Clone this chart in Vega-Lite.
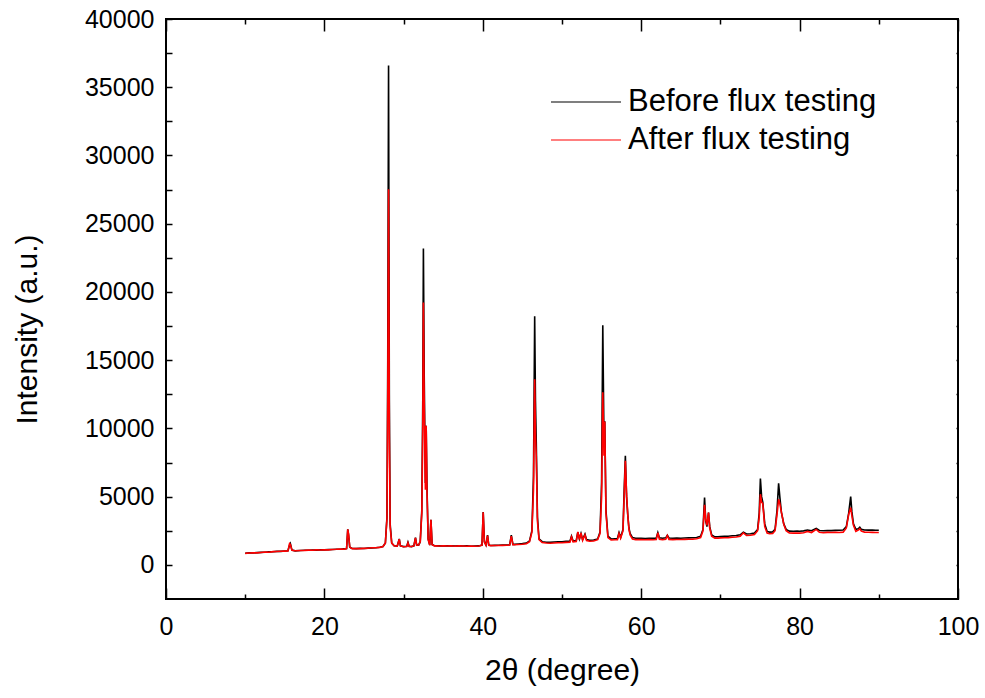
{
  "$schema": "https://vega.github.io/schema/vega-lite/v6.json",
  "width": 792,
  "height": 580,
  "autosize": {"type": "none"},
  "padding": {"left": 166, "top": 19, "right": 27, "bottom": 99},
  "background": "white",
  "config": {
    "view": {"stroke": "#000000", "strokeWidth": 2},
    "font": "Liberation Sans",
    "axis": {
      "grid": false,
      "domain": false,
      "labelFont": "Liberation Sans",
      "titleFont": "Liberation Sans",
      "labelFontSize": 25,
      "titleFontSize": 30,
      "titleFontWeight": "normal",
      "labelColor": "#000000",
      "titleColor": "#000000",
      "tickColor": "#000000",
      "tickWidth": 1.5,
      "labelFlush": false,
      "labelOverlap": false
    }
  },
  "data": {
    "values": [
      {"t": 10.0, "b": 850, "a": 840}, {"t": 10.5, "b": 880, "a": 870}, {"t": 11.0, "b": 870, "a": 890},
      {"t": 11.5, "b": 900, "a": 880}, {"t": 12.0, "b": 920, "a": 910}, {"t": 12.5, "b": 930, "a": 940},
      {"t": 13.0, "b": 950, "a": 930}, {"t": 13.5, "b": 960, "a": 970}, {"t": 14.0, "b": 990, "a": 980},
      {"t": 14.5, "b": 990, "a": 1000}, {"t": 15.0, "b": 1020, "a": 1010}, {"t": 15.4, "b": 1030, "a": 1020},
      {"t": 15.6, "b": 1450, "a": 1560}, {"t": 15.7, "b": 1560, "a": 1500}, {"t": 15.9, "b": 1080, "a": 1070},
      {"t": 16.3, "b": 1030, "a": 1040}, {"t": 17.0, "b": 1050, "a": 1050}, {"t": 17.5, "b": 1070, "a": 1060},
      {"t": 18.0, "b": 1070, "a": 1080}, {"t": 18.5, "b": 1090, "a": 1070}, {"t": 19.0, "b": 1080, "a": 1100},
      {"t": 19.5, "b": 1100, "a": 1090}, {"t": 20.0, "b": 1100, "a": 1110}, {"t": 20.5, "b": 1120, "a": 1100},
      {"t": 21.0, "b": 1130, "a": 1130}, {"t": 21.5, "b": 1150, "a": 1140}, {"t": 22.0, "b": 1150, "a": 1160},
      {"t": 22.5, "b": 1170, "a": 1150}, {"t": 22.8, "b": 1200, "a": 1190}, {"t": 22.95, "b": 2600, "a": 2610},
      {"t": 23.05, "b": 2200, "a": 2250}, {"t": 23.2, "b": 1300, "a": 1300}, {"t": 23.5, "b": 1200, "a": 1190},
      {"t": 24.0, "b": 1190, "a": 1200}, {"t": 24.5, "b": 1210, "a": 1190}, {"t": 25.0, "b": 1200, "a": 1210},
      {"t": 25.5, "b": 1230, "a": 1220}, {"t": 26.0, "b": 1240, "a": 1250}, {"t": 26.5, "b": 1260, "a": 1250},
      {"t": 27.0, "b": 1290, "a": 1280}, {"t": 27.4, "b": 1350, "a": 1350}, {"t": 27.7, "b": 1600, "a": 1600},
      {"t": 27.9, "b": 3500, "a": 3400}, {"t": 28.0, "b": 15000, "a": 12000}, {"t": 28.1, "b": 36600, "a": 27520},
      {"t": 28.2, "b": 12000, "a": 9500}, {"t": 28.3, "b": 3000, "a": 2800}, {"t": 28.5, "b": 1600, "a": 1600},
      {"t": 28.8, "b": 1400, "a": 1400}, {"t": 29.2, "b": 1380, "a": 1370}, {"t": 29.45, "b": 1900, "a": 1880},
      {"t": 29.6, "b": 1400, "a": 1390}, {"t": 30.0, "b": 1340, "a": 1330}, {"t": 30.4, "b": 1360, "a": 1350},
      {"t": 30.55, "b": 1650, "a": 1620}, {"t": 30.7, "b": 1360, "a": 1350}, {"t": 31.0, "b": 1340, "a": 1350},
      {"t": 31.3, "b": 1400, "a": 1390}, {"t": 31.5, "b": 2000, "a": 1980}, {"t": 31.65, "b": 1450, "a": 1440},
      {"t": 31.9, "b": 1450, "a": 1450}, {"t": 32.1, "b": 1700, "a": 1700}, {"t": 32.3, "b": 4000, "a": 3800},
      {"t": 32.42, "b": 12000, "a": 10000}, {"t": 32.5, "b": 23190, "a": 19230}, {"t": 32.6, "b": 14000, "a": 12000},
      {"t": 32.75, "b": 6000, "a": 5500}, {"t": 32.85, "b": 10200, "a": 10200}, {"t": 32.95, "b": 5800, "a": 5500},
      {"t": 33.1, "b": 1900, "a": 1850}, {"t": 33.3, "b": 1450, "a": 1450}, {"t": 33.45, "b": 3300, "a": 3300},
      {"t": 33.6, "b": 1500, "a": 1480}, {"t": 33.9, "b": 1400, "a": 1390}, {"t": 34.5, "b": 1390, "a": 1380},
      {"t": 35.0, "b": 1380, "a": 1390}, {"t": 35.5, "b": 1400, "a": 1380}, {"t": 36.0, "b": 1390, "a": 1400},
      {"t": 36.5, "b": 1380, "a": 1370}, {"t": 37.0, "b": 1400, "a": 1390}, {"t": 37.5, "b": 1380, "a": 1380},
      {"t": 38.0, "b": 1390, "a": 1370}, {"t": 38.5, "b": 1370, "a": 1380}, {"t": 39.0, "b": 1380, "a": 1370},
      {"t": 39.5, "b": 1390, "a": 1380}, {"t": 39.9, "b": 1450, "a": 1440}, {"t": 40.05, "b": 3880, "a": 3850},
      {"t": 40.2, "b": 1700, "a": 1650}, {"t": 40.4, "b": 1450, "a": 1450}, {"t": 40.6, "b": 2180, "a": 2150},
      {"t": 40.75, "b": 1450, "a": 1440}, {"t": 41.0, "b": 1420, "a": 1410}, {"t": 41.5, "b": 1430, "a": 1420},
      {"t": 42.0, "b": 1440, "a": 1420}, {"t": 42.5, "b": 1450, "a": 1430}, {"t": 43.0, "b": 1460, "a": 1440},
      {"t": 43.4, "b": 1470, "a": 1460}, {"t": 43.6, "b": 2180, "a": 2100}, {"t": 43.8, "b": 1500, "a": 1480},
      {"t": 44.0, "b": 1500, "a": 1470}, {"t": 44.5, "b": 1530, "a": 1490}, {"t": 45.0, "b": 1560, "a": 1510},
      {"t": 45.5, "b": 1600, "a": 1550}, {"t": 45.9, "b": 1750, "a": 1700}, {"t": 46.2, "b": 2500, "a": 2400},
      {"t": 46.4, "b": 6500, "a": 5500}, {"t": 46.55, "b": 18220, "a": 13600}, {"t": 46.65, "b": 12000, "a": 9500},
      {"t": 46.75, "b": 9000, "a": 8000}, {"t": 46.9, "b": 3500, "a": 3200}, {"t": 47.1, "b": 1900, "a": 1850},
      {"t": 47.5, "b": 1700, "a": 1640}, {"t": 48.0, "b": 1660, "a": 1600}, {"t": 48.5, "b": 1650, "a": 1580},
      {"t": 49.0, "b": 1680, "a": 1600}, {"t": 49.5, "b": 1690, "a": 1620}, {"t": 50.0, "b": 1700, "a": 1620},
      {"t": 50.5, "b": 1720, "a": 1650}, {"t": 51.0, "b": 1730, "a": 1660}, {"t": 51.2, "b": 2100, "a": 2050},
      {"t": 51.4, "b": 1750, "a": 1690}, {"t": 51.8, "b": 1780, "a": 1720}, {"t": 52.0, "b": 2400, "a": 2420},
      {"t": 52.2, "b": 1900, "a": 1850}, {"t": 52.4, "b": 2300, "a": 2350}, {"t": 52.6, "b": 1850, "a": 1800},
      {"t": 52.9, "b": 2250, "a": 2200}, {"t": 53.1, "b": 1850, "a": 1780}, {"t": 53.5, "b": 1800, "a": 1730},
      {"t": 54.0, "b": 1820, "a": 1750}, {"t": 54.5, "b": 1900, "a": 1850}, {"t": 54.8, "b": 2400, "a": 2300},
      {"t": 55.0, "b": 6000, "a": 5000}, {"t": 55.15, "b": 17560, "a": 12650}, {"t": 55.3, "b": 9000, "a": 8000},
      {"t": 55.4, "b": 10530, "a": 10500}, {"t": 55.55, "b": 4000, "a": 3800}, {"t": 55.8, "b": 2100, "a": 2000},
      {"t": 56.2, "b": 1900, "a": 1820}, {"t": 56.7, "b": 1920, "a": 1840}, {"t": 57.0, "b": 1930, "a": 1850},
      {"t": 57.2, "b": 2370, "a": 2300}, {"t": 57.4, "b": 2000, "a": 1950}, {"t": 57.7, "b": 2600, "a": 2500},
      {"t": 57.85, "b": 5500, "a": 5000}, {"t": 58.0, "b": 7990, "a": 7620}, {"t": 58.15, "b": 5000, "a": 5200},
      {"t": 58.3, "b": 3700, "a": 3710}, {"t": 58.45, "b": 2700, "a": 2610}, {"t": 58.6, "b": 2300, "a": 2200},
      {"t": 58.9, "b": 2000, "a": 1900}, {"t": 59.3, "b": 1950, "a": 1850}, {"t": 60.0, "b": 1950, "a": 1850},
      {"t": 60.5, "b": 1930, "a": 1840}, {"t": 61.0, "b": 1950, "a": 1850}, {"t": 61.5, "b": 1940, "a": 1840},
      {"t": 61.9, "b": 1960, "a": 1860}, {"t": 62.1, "b": 2370, "a": 2350}, {"t": 62.3, "b": 1980, "a": 1880},
      {"t": 62.7, "b": 1950, "a": 1850}, {"t": 63.1, "b": 1980, "a": 1880}, {"t": 63.3, "b": 2170, "a": 2150},
      {"t": 63.5, "b": 1970, "a": 1870}, {"t": 64.0, "b": 1950, "a": 1850}, {"t": 64.5, "b": 1960, "a": 1860},
      {"t": 65.0, "b": 1950, "a": 1860}, {"t": 65.5, "b": 1970, "a": 1870}, {"t": 66.0, "b": 1980, "a": 1880},
      {"t": 66.5, "b": 1990, "a": 1890}, {"t": 67.0, "b": 2010, "a": 1910}, {"t": 67.5, "b": 2100, "a": 2000},
      {"t": 67.8, "b": 2600, "a": 2500}, {"t": 68.0, "b": 4940, "a": 4400}, {"t": 68.15, "b": 3200, "a": 3300},
      {"t": 68.3, "b": 2800, "a": 2900}, {"t": 68.5, "b": 3840, "a": 3840}, {"t": 68.65, "b": 2800, "a": 2700},
      {"t": 68.9, "b": 2200, "a": 2100}, {"t": 69.3, "b": 2050, "a": 1960}, {"t": 69.7, "b": 2060, "a": 1960},
      {"t": 70.0, "b": 2080, "a": 1980}, {"t": 70.5, "b": 2090, "a": 1990}, {"t": 71.0, "b": 2100, "a": 2000},
      {"t": 71.5, "b": 2130, "a": 2020}, {"t": 72.0, "b": 2150, "a": 2040}, {"t": 72.5, "b": 2200, "a": 2090},
      {"t": 72.9, "b": 2400, "a": 2350}, {"t": 73.3, "b": 2260, "a": 2150}, {"t": 73.8, "b": 2280, "a": 2170},
      {"t": 74.3, "b": 2330, "a": 2220}, {"t": 74.7, "b": 2600, "a": 2500}, {"t": 74.9, "b": 3800, "a": 3500},
      {"t": 75.05, "b": 6330, "a": 5180}, {"t": 75.2, "b": 5000, "a": 4600}, {"t": 75.35, "b": 4600, "a": 4500},
      {"t": 75.6, "b": 3000, "a": 2800}, {"t": 75.9, "b": 2450, "a": 2330}, {"t": 76.2, "b": 2400, "a": 2280},
      {"t": 76.6, "b": 2420, "a": 2300}, {"t": 76.9, "b": 2600, "a": 2500}, {"t": 77.15, "b": 4000, "a": 3700},
      {"t": 77.35, "b": 5980, "a": 4810}, {"t": 77.5, "b": 5000, "a": 4500}, {"t": 77.7, "b": 3860, "a": 3860},
      {"t": 78.0, "b": 3000, "a": 2980}, {"t": 78.3, "b": 2600, "a": 2500}, {"t": 78.7, "b": 2470, "a": 2340},
      {"t": 79.2, "b": 2460, "a": 2330}, {"t": 79.7, "b": 2480, "a": 2340}, {"t": 80.0, "b": 2470, "a": 2330},
      {"t": 80.5, "b": 2490, "a": 2350}, {"t": 81.0, "b": 2560, "a": 2450}, {"t": 81.5, "b": 2500, "a": 2370},
      {"t": 82.1, "b": 2680, "a": 2600}, {"t": 82.5, "b": 2520, "a": 2390}, {"t": 83.0, "b": 2500, "a": 2360},
      {"t": 83.5, "b": 2520, "a": 2380}, {"t": 84.0, "b": 2510, "a": 2370}, {"t": 84.5, "b": 2530, "a": 2380},
      {"t": 85.0, "b": 2540, "a": 2370}, {"t": 85.5, "b": 2560, "a": 2400}, {"t": 85.9, "b": 2800, "a": 2700},
      {"t": 86.2, "b": 3800, "a": 3700}, {"t": 86.45, "b": 5010, "a": 4200}, {"t": 86.6, "b": 3900, "a": 3600},
      {"t": 86.8, "b": 3000, "a": 2900}, {"t": 87.1, "b": 2600, "a": 2450}, {"t": 87.4, "b": 2650, "a": 2550},
      {"t": 87.6, "b": 2760, "a": 2650}, {"t": 87.8, "b": 2600, "a": 2470}, {"t": 88.2, "b": 2560, "a": 2400},
      {"t": 88.7, "b": 2550, "a": 2390}, {"t": 89.2, "b": 2560, "a": 2380}, {"t": 89.6, "b": 2540, "a": 2370},
      {"t": 90.0, "b": 2540, "a": 2370}
    ]
  },
  "transform": [{"fold": ["b", "a"], "as": ["k", "v"]}],
  "layer": [
    {
      "transform": [{"filter": "datum.k === 'b'"}],
      "mark": {"type": "line", "strokeWidth": 1.6},
      "encoding": {
        "x": {
          "field": "t", "type": "quantitative",
          "scale": {"domain": [0, 100], "nice": false, "zero": false},
          "axis": {"orient": "bottom", "values": [0, 20, 40, 60, 80, 100], "ticks": false, "labelPadding": 15,
                   "title": "2θ (degree)", "titleBaseline": "alphabetic", "titleY": 80, "titleX": 396, "titleAlign": "center"}
        },
        "y": {
          "field": "v", "type": "quantitative",
          "scale": {"domain": [-2500, 40000], "nice": false, "zero": false},
          "axis": {"orient": "left", "values": [0, 5000, 10000, 15000, 20000, 25000, 30000, 35000, 40000], "format": "d",
                   "ticks": false, "labelPadding": 12,
                   "title": "Intensity (a.u.)", "titleBaseline": "alphabetic", "titleAngle": -90, "titleAlign": "center",
                   "titleX": -130, "titleY": 310}
        },
        "color": {
          "field": "k", "type": "nominal",
          "scale": {"domain": ["b", "a"], "range": ["#000000", "#ff0000"]},
          "legend": {
            "orient": "none", "legendX": 384, "legendY": 64, "title": null, "padding": 0,
            "clipHeight": 38, "rowPadding": 0,
            "symbolType": "stroke", "symbolSize": 4900, "symbolStrokeWidth": 1.2,
            "labelFont": "Liberation Sans", "labelFontSize": 31, "labelColor": "#000000", "labelOffset": 6, "labelLimit": 0,
            "labelExpr": "datum.label === 'b' ? 'Before flux testing' : 'After flux testing'"
          }
        }
      }
    },
    {
      "transform": [{"filter": "datum.k === 'a'"}],
      "mark": {"type": "line", "strokeWidth": 1.6},
      "encoding": {
        "x": {"field": "t", "type": "quantitative",
              "axis": {"orient": "bottom", "values": [0, 20, 40, 60, 80, 100], "labels": false, "tickSize": -11, "title": null}},
        "y": {"field": "v", "type": "quantitative",
              "axis": {"orient": "left", "values": [0, 5000, 10000, 15000, 20000, 25000, 30000, 35000, 40000], "labels": false, "tickSize": -6, "title": null}},
        "color": {"field": "k", "type": "nominal"}
      }
    },
    {
      "mark": {"type": "line", "opacity": 0},
      "encoding": {
        "x": {"field": "t", "type": "quantitative",
              "axis": {"orient": "bottom", "values": [10, 30, 50, 70, 90], "labels": false, "tickSize": -5, "title": null}},
        "y": {"field": "v", "type": "quantitative",
              "axis": {"orient": "left", "values": [2500, 7500, 12500, 17500, 22500, 27500, 32500, 37500], "labels": false, "tickSize": -6, "title": null}}
      }
    },
    {
      "mark": {"type": "line", "opacity": 0},
      "encoding": {
        "x": {"field": "t", "type": "quantitative",
              "axis": {"orient": "top", "values": [0, 20, 40, 60, 80, 100], "labels": false, "tickSize": -12, "title": null}},
        "y": {"field": "v", "type": "quantitative",
              "axis": {"orient": "right", "values": [0, 5000, 10000, 15000, 20000, 25000, 30000, 35000, 40000], "labels": false, "tickSize": -2, "title": null}}
      }
    },
    {
      "mark": {"type": "line", "opacity": 0},
      "encoding": {
        "x": {"field": "t", "type": "quantitative",
              "axis": {"orient": "top", "values": [10, 30, 50, 70, 90], "labels": false, "tickSize": -5, "title": null}},
        "y": {"field": "v", "type": "quantitative",
              "axis": {"orient": "right", "values": [2500, 7500, 12500, 17500, 22500, 27500, 32500, 37500], "labels": false, "tickSize": -2, "title": null}}
      }
    }
  ],
  "resolve": {"axis": {"x": "independent", "y": "independent"}}
}
